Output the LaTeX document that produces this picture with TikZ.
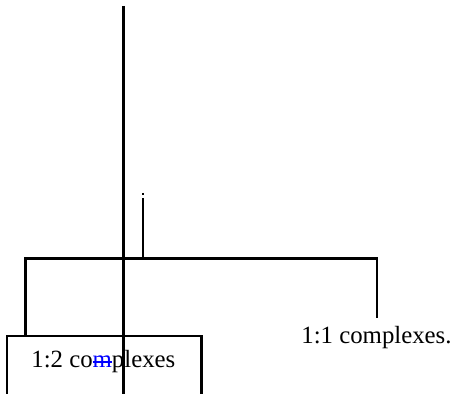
\documentclass[tikz,border=0pt]{standalone}
\usepackage{fontspec}
\setmainfont{Liberation Serif}
% struck-through letter: rule laid over the box of the argument
\newcommand\strikeletter[1]{\setbox0\hbox{#1}\rlap{\rule[0.22em]{\wd0}{0.05em}}\box0}
\begin{document}
\begin{tikzpicture}[x=0.5pt,y=-0.5pt,
  wire/.style={line width=1.1pt,line cap=rect},
  lbl/.style={font=\fontsize{12.4}{15}\selectfont,inner sep=0pt,anchor=base west}]
\useasboundingbox (0,0) rectangle (460,394);
% tree: bracket joining the two branches
\coordinate (stem) at (143,258.5);
\coordinate (stemtop) at (143,199);
\coordinate (brL) at (25.5,258.5);
\coordinate (brR) at (377,258.5);
\coordinate (legL) at (25.5,336);
\coordinate (legR) at (377,317);
\draw[wire] (stemtop) -- (stem);
\draw[line width=1.1pt] (143,193) -- (143,195.5);
\draw[wire] (legL) -- (brL) -- (brR) -- (legR);
% open box around the left label
\coordinate (boxBL) at (7,394);
\coordinate (boxTL) at (7,336);
\coordinate (boxTR) at (201.5,336);
\coordinate (boxBR) at (201.5,394);
\draw[line width=1.1pt] (boxBL) -- (boxTL) -- (boxTR) -- (boxBR);
% labels
\node[lbl] (left) at (31,368) {1:2 co{\color{blue}\strikeletter{m}}plexes};
\node[lbl] (right) at (301,344) {1:1 complexes.};
% long vertical rule through the figure
\coordinate (vtop) at (123.5,6);
\coordinate (vbot) at (123.5,394);
\draw[line width=1.1pt] (vtop) -- (vbot);
\end{tikzpicture}
\end{document}
